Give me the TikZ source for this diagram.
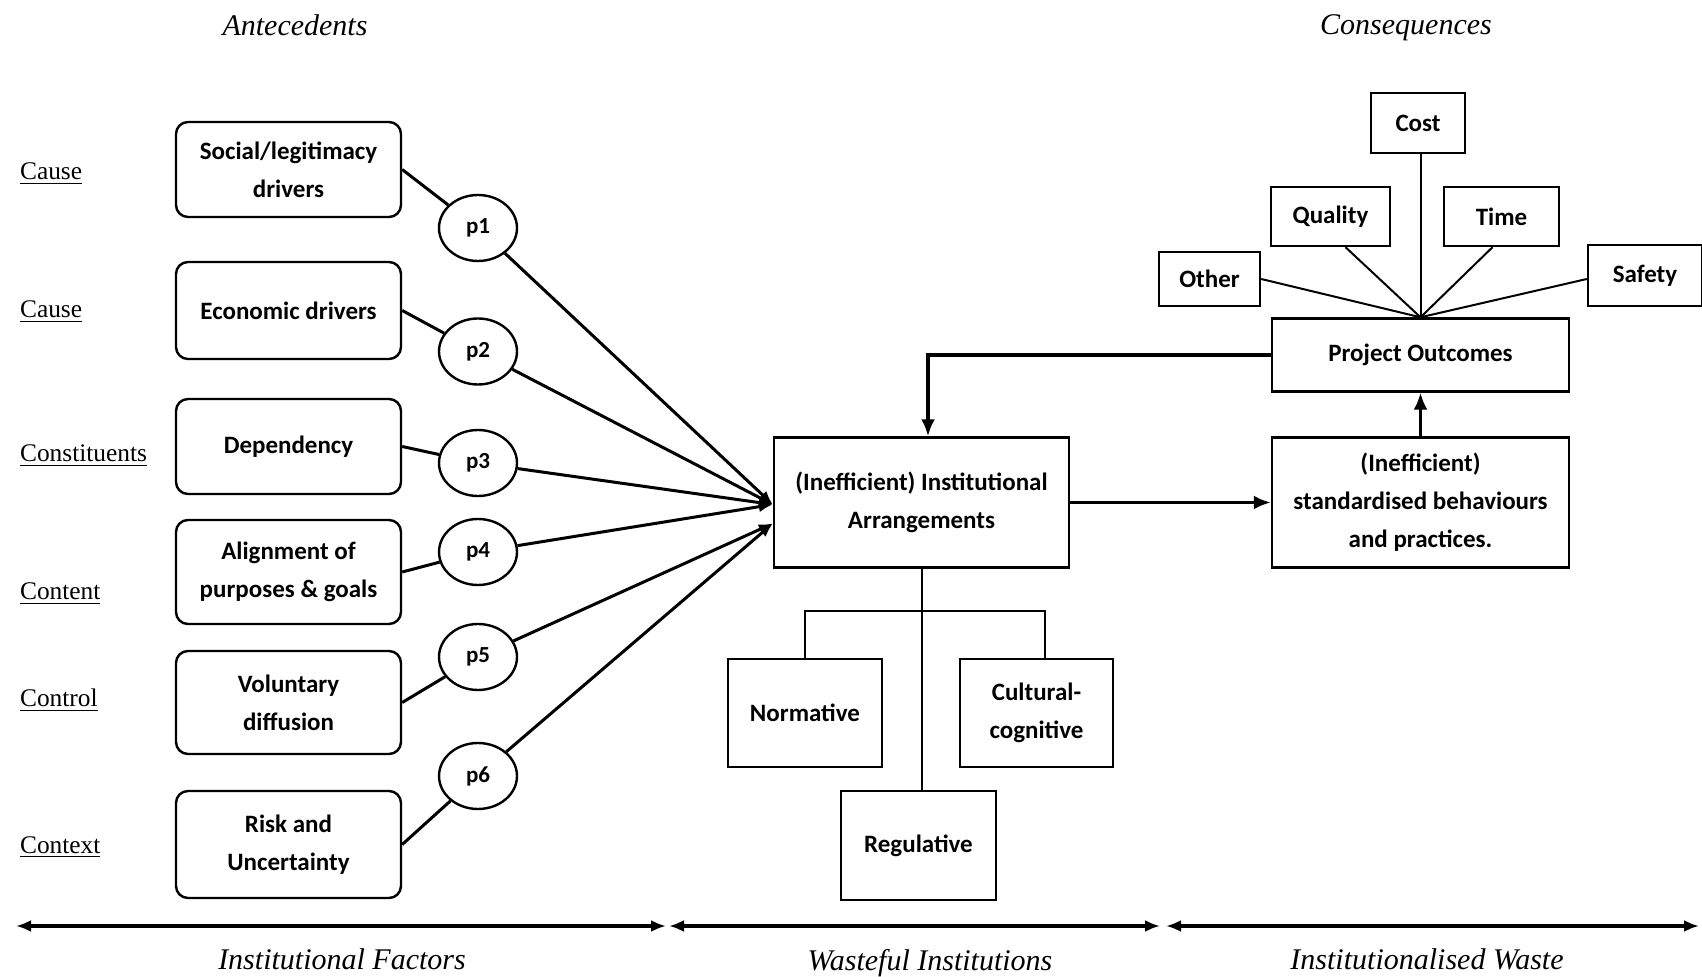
\documentclass[tikz,border=0pt]{standalone}
\usepackage{fontspec}
\setmainfont{Liberation Serif}
\newfontfamily\calibrifam{Carlito}
\usetikzlibrary{arrows.meta,shapes.geometric,calc}
\newcommand\boxfont{\calibrifam\bfseries\fontsize{12.5}{19}\selectfont}
\newcommand\pfont{\calibrifam\bfseries\fontsize{11.5}{13}\selectfont}
\newcommand\sidefont{\fontsize{12.7}{14}\selectfont}
\newcommand\headfont{\itshape\fontsize{15}{18}\selectfont}

\begin{document}
\begin{tikzpicture}[x=0.5pt,y=-0.5pt,
  rbox/.style={draw, rounded corners=6pt, line width=1.2pt, minimum width=112.5pt, inner sep=0pt, align=center, font=\boxfont},
  sbox/.style={draw, line width=1.2pt, inner sep=0pt, align=center, font=\boxfont},
  pnode/.style={draw, ellipse, line width=1.2pt, minimum width=39pt, minimum height=33pt, inner sep=0pt, font=\pfont},
  side/.style={anchor=base west, font=\sidefont},
  head/.style={anchor=base, font=\headfont},
  link/.style={line width=1.5pt},
  conv/.style={line width=1.5pt, -{Latex[length=7pt,width=5.5pt]}},
  flow/.style={line width=1.6pt, -{Latex[length=8.5pt,width=7pt]}},
  spoke/.style={line width=1pt},
  tree/.style={line width=1pt},
  span/.style={line width=1.6pt, {Latex[length=7.5pt,width=6pt]}-{Latex[length=7.5pt,width=6pt]}},
]
\fill[white] (0,0) rectangle (1702,977);
\useasboundingbox (0,0) rectangle (1702,977);

% column headings
\node[head] (hA) at (295,36) {Antecedents};
\node[head] (hC) at (1406,35) {Consequences};

% row labels
\node[side] (l1) at (13,180) {\underline{Cause}};
\node[side] (l2) at (13,318) {\underline{Cause}};
\node[side] (l3) at (13,462) {\underline{Constituents}};
\node[side] (l4) at (13,600) {\underline{Content}};
\node[side] (l5) at (13,707) {\underline{Control}};
\node[side] (l6) at (13,853) {\underline{Context}};

% institutional factors
\node[rbox, minimum height=47.5pt] (b1) at (288.5,169.5) {Social/legitimacy\\drivers};
\node[rbox, minimum height=48.5pt] (b2) at (288.5,310.5) {Economic drivers};
\node[rbox, minimum height=47.5pt] (b3) at (288.5,446.5) {Dependency};
\node[rbox, minimum height=52pt]   (b4) at (288.5,572)   {Alignment of\\purposes \& goals};
\node[rbox, minimum height=51.5pt] (b5) at (288.5,702.5) {Voluntary\\diffusion};
\node[rbox, minimum height=53.5pt] (b6) at (288.5,844.5) {Risk and\\Uncertainty};

% propositions
\node[pnode] (p1) at (478,228)   {p1};
\node[pnode] (p2) at (478,351.5) {p2};
\node[pnode] (p3) at (478,463)   {p3};
\node[pnode] (p4) at (478,552)   {p4};
\node[pnode] (p5) at (478,657)   {p5};
\node[pnode] (p6) at (478,776)   {p6};

% central arrangements and their pillars
\node[sbox, minimum width=147.5pt, minimum height=65pt] (C) at (921.5,502.5) {(Inefficient) Institutional\\Arrangements};
\node[sbox, minimum width=77pt, minimum height=54pt] (Norm) at (805,713) {Normative};
\node[sbox, minimum width=76.5pt, minimum height=54pt] (Cult) at (1036.5,713) {Cultural-\\cognitive};
\node[sbox, minimum width=77.5pt, minimum height=54.5pt] (Reg) at (918.5,845.5) {Regulative};

% consequences
\node[sbox, minimum width=148.5pt, minimum height=65pt] (S) at (1420.5,502.5) {(Inefficient)\\standardised behaviours\\and practices.};
\node[sbox, minimum width=148.5pt, minimum height=36.5pt] (PO) at (1420.5,355) {Project Outcomes};
\node[sbox, minimum width=47pt, minimum height=30pt] (Cost) at (1418,123) {Cost};
\node[sbox, minimum width=59.5pt, minimum height=29.5pt] (Quality) at (1330.5,216.5) {Quality};
\node[sbox, minimum width=57.5pt, minimum height=29.5pt] (Time) at (1501.5,216.5) {Time};
\node[sbox, minimum width=50.5pt, minimum height=27pt] (Other) at (1209.5,279) {Other};
\node[sbox, minimum width=57pt, minimum height=30.5pt] (Safety) at (1645,275.5) {Safety};

% factors -> propositions -> arrangements
\foreach \i in {1,...,6} \draw[link] (b\i.east) -- (p\i);
\draw[conv] (p1) -- ([yshift=-1pt]C.west);
\draw[conv] (p2) -- ([yshift=-1pt]C.west);
\draw[conv] (p3) -- ([yshift=-1pt]C.west);
\draw[conv] (p4) -- ([yshift=-1pt]C.west);
\draw[conv] (p5) -- ([yshift=-10.5pt]C.west);
\draw[conv] (p6) -- ([yshift=-10.5pt]C.west);

% arrangements -> practices -> outcomes -> back
\draw[flow] (C.east) -- (S.west);
\draw[flow] (S.north) -- (PO.south);
\draw[flow] (PO.west) -| ([xshift=3.25pt]C.north);

% outcome dimensions
\draw[spoke] (PO.north |- Cost.south) -- (PO.north);
\draw[spoke] ([xshift=7.5pt]Quality.south) -- (PO.north);
\draw[spoke] ([xshift=-4.5pt]Time.south) -- (PO.north);
\draw[spoke] (Other.east) -- (PO.north);
\draw[spoke] ([yshift=-1.75pt]Safety.west) -- (PO.north);

% pillars tree
\coordinate (bar) at (921,611);
\draw[tree] (C.south) -- (C.south |- Reg.north);
\draw[tree] (Norm.north) |- (bar) -| ([xshift=4pt]Cult.north);

% bottom spans
\coordinate (a0) at (16,926);
\coordinate (a1) at (666,926);
\coordinate (a2) at (669,926);
\coordinate (a3) at (1160,926);
\coordinate (a4) at (1166,926);
\coordinate (a5) at (1699,926);
\draw[span] (a0) -- (a1);
\draw[span] (a2) -- (a3);
\draw[span] (a4) -- (a5);

\node[head] (f1) at (342,969) {Institutional Factors};
\node[head] (f2) at (930,970) {Wasteful Institutions};
\node[head] (f3) at (1427,969) {Institutionalised Waste};
\end{tikzpicture}
\end{document}
